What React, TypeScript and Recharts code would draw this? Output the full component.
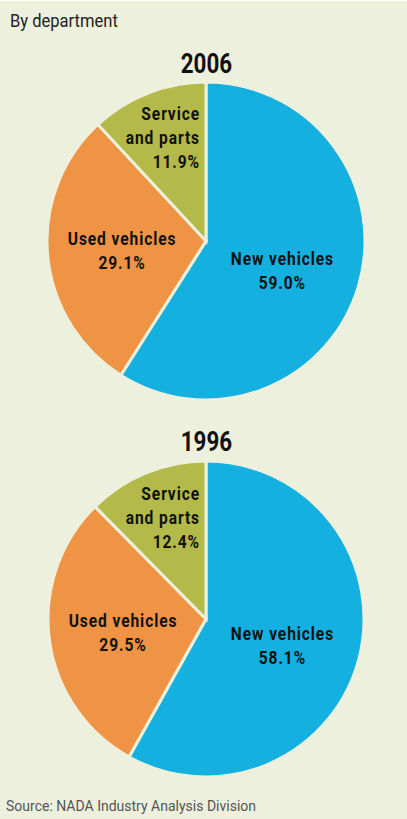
import { Cell, Pie, PieChart } from "recharts";

const categories = ["New vehicles", "Used vehicles", "Service and parts"];
const share2006 = [59.0, 29.1, 11.9];
const share1996 = [58.1, 29.5, 12.4];
const years = ["2006", "1996"];

const COLORS = ["#14b1e0", "#ee9444", "#b4ba4a"];
const BG = "#edf0dc";
const RADIAN = Math.PI / 180;
const FONT = "Roboto, sans-serif";
const SQUEEZE = 0.82;

const toRows = (vals: number[]) =>
  categories.map((name, i) => ({ name, value: vals[i] }));

const data2006 = toRows(share2006);
const data1996 = toRows(share1996);

// condensed look: no narrow fonts installed, so squeeze Roboto horizontally
function Lines({ x, y, lines, anchor }: { x: number; y: number; lines: string[]; anchor: "middle" | "end" }) {
  return (
    <g transform={`translate(${x},${y}) scale(${SQUEEZE},1)`}>
      <text
        fill="#111"
        fontFamily={FONT}
        fontWeight={700}
        fontSize={19}
        letterSpacing={1.1}
        textAnchor={anchor}
        x={0}
        y={0}
      >
        {lines.map((l, i) => (
          <tspan key={l} x={0} dy={i === 0 ? 0 : 24}>
            {l}
          </tspan>
        ))}
      </text>
    </g>
  );
}

function SliceLabel(props: any) {
  const { cx, cy, midAngle, outerRadius, index, name, value } = props;
  const pct = `${value.toFixed(1)}%`;
  if (index === 2) {
    const r = outerRadius * 0.7;
    const y = cy - r * Math.sin(midAngle * RADIAN);
    return <Lines x={cx - 6} y={y - 17} lines={["Service", "and parts", pct]} anchor="end" />;
  }
  const r = outerRadius * (index === 0 ? 0.5 : 0.53);
  const x = cx + r * Math.cos(-midAngle * RADIAN);
  const y = cy + r * Math.sin(-midAngle * RADIAN);
  return <Lines x={x} y={y + (index === 0 ? 1.5 : -3.5)} lines={[name, pct]} anchor="middle" />;
}

export default function App() {
  const pies = [
    { year: years[0], data: data2006, cy: 240, r: 159, titleY: 46 },
    { year: years[1], data: data1996, cy: 618, r: 158, titleY: 424 },
  ];
  return (
    <div
      style={{
        position: "absolute",
        top: 0,
        left: 0,
        width: 407,
        height: 819,
        background: BG,
        borderTop: "1px solid #fbfbf4",
        boxSizing: "border-box",
        overflow: "hidden",
      }}
    >
      <div
        style={{
          position: "absolute",
          left: 10,
          top: 8,
          fontFamily: FONT,
          fontSize: 19,
          color: "#222",
          transform: "scaleX(0.87)",
          transformOrigin: "left top",
          whiteSpace: "nowrap",
        }}
      >
        By department
      </div>
      {pies.map((p) => (
        <div
          key={p.year}
          style={{
            position: "absolute",
            left: 0,
            width: 407,
            top: p.titleY,
            textAlign: "center",
            fontFamily: FONT,
            fontWeight: 700,
            fontSize: 28,
            color: "#111",
            paddingLeft: 6,
            boxSizing: "border-box",
            transform: "scaleX(0.8)",
            transformOrigin: "206px top",
          }}
        >
          {p.year}
        </div>
      ))}
      <div style={{ position: "absolute", top: 0, left: 0 }}>
        <PieChart width={407} height={819} margin={{ top: 0, right: 0, bottom: 0, left: 0 }}>
          {pies.map((p) => (
            <Pie
              key={p.year}
              data={p.data}
              dataKey="value"
              nameKey="name"
              cx={206}
              cy={p.cy}
              outerRadius={p.r}
              startAngle={90}
              endAngle={-270}
              stroke={BG}
              strokeWidth={3}
              labelLine={false}
              label={SliceLabel}
              isAnimationActive={false}
            >
              {p.data.map((d, i) => (
                <Cell key={d.name} fill={COLORS[i]} />
              ))}
            </Pie>
          ))}
        </PieChart>
      </div>
      <div
        style={{
          position: "absolute",
          left: 6,
          top: 797,
          fontFamily: FONT,
          fontSize: 14,
          color: "#555",
          whiteSpace: "nowrap",
        }}
      >
        Source: NADA Industry Analysis Division
      </div>
    </div>
  );
}
